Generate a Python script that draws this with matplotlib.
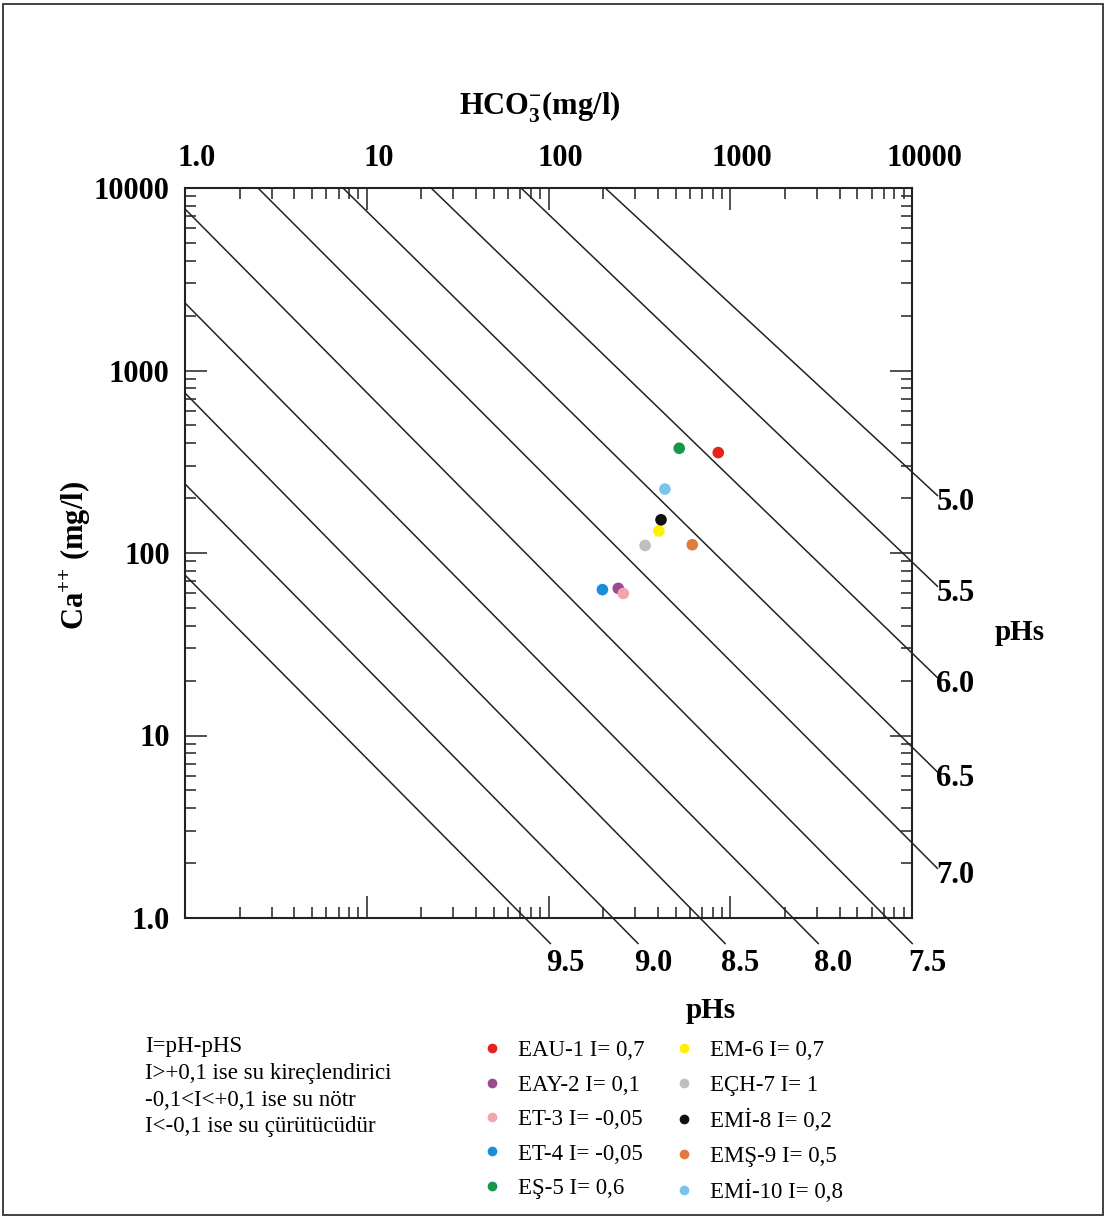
"""Langelier-type pHs diagram: Ca++ vs HCO3- with sample points."""

import numpy as np
import matplotlib.pyplot as plt
import matplotlib.transforms as mtransforms
from matplotlib.lines import Line2D
from matplotlib.patches import Rectangle
from matplotlib.ticker import FixedLocator, FixedFormatter, LogLocator, NullFormatter

plt.rcParams["font.family"] = ["Liberation Serif", "DejaVu Serif"]
plt.rcParams["mathtext.fontset"] = "custom"
plt.rcParams["mathtext.rm"] = "Liberation Serif"
plt.rcParams["mathtext.bf"] = "Liberation Serif:bold"

# --- sample data (mg/l) ---
sample_names = ["EAU-1", "EAY-2", "ET-3", "ET-4", "EŞ-5",
                "EM-6", "EÇH-7", "EMİ-8", "EMŞ-9", "EMİ-10"]
sample_index = ["0,7", "0,1", "-0,05", "-0,05", "0,6",
                "0,7", "1", "0,2", "0,5", "0,8"]
hco3 = [859, 242, 258, 198, 524, 405, 340, 416, 618, 437]
calcium = [355, 64, 60, 63, 375, 132, 110, 152, 111, 224]
sample_colors = ["#e2231f", "#9a4a8e", "#f2a3ab", "#1a8fd9", "#14984a",
                 "#fff000", "#bfbfbf", "#111111", "#e17a3b", "#7cc3ec"]

# --- pHs iso-lines: (HCO3, Ca) where each line enters and leaves the frame ---
phs_labels = ["9.5", "9.0", "8.5", "8.0", "7.5", "7.0", "6.5", "6.0", "5.5", "5.0"]
phs_start_hco3 = [1, 1, 1, 1, 1, 2.52, 7.4, 22.6, 70.6, 205]
phs_start_ca = [75.7, 239, 753, 2344, 7674, 10000, 10000, 10000, 10000, 10000]
phs_end_hco3 = [74.3, 226, 682, 2215, 7280, 10000, 10000, 10000, 10000, 10000]
phs_end_ca = [1, 1, 1, 1, 1, 2.58, 8.65, 28.3, 89.3, 278]

major_ticks = [1, 10, 100, 1000, 10000]
major_tick_labels = ["1.0", "10", "100", "1000", "10000"]

legend_notes = ["I=pH-pHS",
                "I>+0,1 ise su kireçlendirici",
                "-0,1<I<+0,1 ise su nötr",
                "I<-0,1 ise su çürütücüdür"]

fig = plt.figure(figsize=(11.06, 12.19), dpi=100)
ax = fig.add_axes([185 / 1106, 1 - 918 / 1219, 727 / 1106, 730 / 1219])
ax.set_xscale("log")
ax.set_yscale("log")
ax.set_xlim(1, 10000)
ax.set_ylim(1, 10000)

# pHs lines, extended a little beyond the frame at their exit end
for lab, x0, y0, x1, y1 in zip(phs_labels, phs_start_hco3, phs_start_ca,
                               phs_end_hco3, phs_end_ca):
    p0 = np.log10([x0, y0])
    p1 = np.log10([x1, y1])
    d = p1 - p0
    ext = p1 + 0.14 * d / np.max(np.abs(d))
    xs = 10 ** np.array([p0[0], ext[0]])
    ys = 10 ** np.array([p0[1], ext[1]])
    ax.plot(xs, ys, color="#222222", lw=1.1, clip_on=False, zorder=2)
    if y1 <= 1:
        offset = (11, -14.5)
    else:
        offset = (13, -5)
    ax.annotate(lab, (xs[1], ys[1]), xytext=offset, textcoords="offset points",
                ha="center", va="center", fontsize=22, fontweight="bold",
                annotation_clip=False)

for x, y, c in zip(hco3, calcium, sample_colors):
    ax.scatter(x, y, s=70, color=c, edgecolors="none", zorder=3)

# axes styling
for side in ax.spines.values():
    side.set_linewidth(1.5)
    side.set_color("#222222")
for axis in (ax.xaxis, ax.yaxis):
    axis.set_major_locator(FixedLocator(major_ticks))
    axis.set_major_formatter(FixedFormatter(major_tick_labels))
    axis.set_minor_locator(LogLocator(base=10, subs=np.arange(2, 10)))
    axis.set_minor_formatter(NullFormatter())
ax.tick_params(which="both", direction="in", top=True, right=True,
               labeltop=True, labelbottom=False, labelleft=True,
               labelright=False, width=1.1, color="#222222")
ax.tick_params(which="major", length=16, pad=11, labelsize=22)
ax.tick_params(which="minor", length=8)
for lab in ax.get_xticklabels() + ax.get_yticklabels():
    lab.set_fontweight("bold")

shift = mtransforms.ScaledTranslation(0.12, 0, fig.dpi_scale_trans)
for tick in ax.xaxis.get_major_ticks():
    tick.label2.set_transform(tick.label2.get_transform() + shift)
    tick.label2.set_fontweight("bold")

# axis titles
fig.text(540 / 1106, 1 - 107 / 1219, r"HCO$_{\mathbf{3}}^{\mathbf{-}}$(mg/l)",
         ha="center", va="center", fontsize=22, fontweight="bold")
fig.text(75 / 1106, 1 - 555 / 1219, r"Ca$^{\mathbf{{+}{+}}}$ (mg/l)", rotation=90,
         ha="center", va="center", fontsize=22, fontweight="bold")
fig.text(1020 / 1106, 1 - 632 / 1219, "pHs", ha="center", va="center",
         fontsize=21, fontweight="bold")
fig.text(711 / 1106, 1 - 1010 / 1219, "pHs", ha="center", va="center",
         fontsize=21, fontweight="bold")

# notes and legend
fig.text(145 / 1106, 1 - 1036 / 1219, "\n".join(legend_notes), ha="left",
         va="top", fontsize=16.5, linespacing=1.36)

handles = [Line2D([], [], ls="none", marker="o", markersize=7,
                  markerfacecolor=c, markeredgecolor="none")
           for c in sample_colors]
labels = [f"{n} I= {v}" for n, v in zip(sample_names, sample_index)]
fig.legend(handles, labels, ncol=2, loc="upper left",
           bbox_to_anchor=(469 / 1106, 1 - 1029 / 1219), frameon=False,
           fontsize=16.5, handlelength=1.0, handletextpad=0.65,
           labelspacing=0.58, columnspacing=1.2, borderpad=0)

# outer frame around the whole figure
fig.add_artist(Rectangle((0.003, 0.003), 0.994, 0.994, transform=fig.transFigure,
                         fill=False, lw=1.3, ec="#333333"))

fig.savefig("out.png", dpi=100)
